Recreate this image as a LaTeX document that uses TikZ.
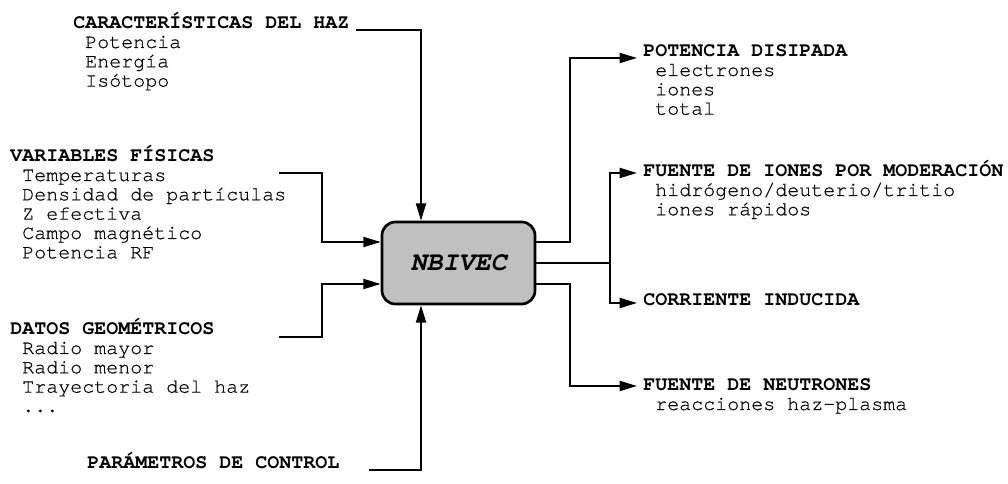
\documentclass[tikz,border=0pt]{standalone}
\usepackage{fontspec}
\setmainfont{texgyrecursor-regular.otf}[
  UprightFeatures={FakeBold=0.5},
  BoldFont=texgyrecursor-bold.otf,
  ItalicFont=texgyrecursor-italic.otf,
  BoldItalicFont=texgyrecursor-bolditalic.otf]
\usetikzlibrary{arrows.meta,calc}
\definecolor{boxgray}{HTML}{C0C0C0}
\newcommand\mylines[1]{\begin{tabular}[t]{@{}l@{}}#1\end{tabular}}
\begin{document}
\begin{tikzpicture}[x=0.75pt,y=-0.75pt,
  hdr/.style={inner sep=0pt, anchor=base west, font=\fontsize{15}{14.5}\selectfont\bfseries},
  items/.style={inner sep=0pt, anchor=base west, font=\fontsize{15}{14.5}\selectfont},
  ln/.style={line width=1.5pt},
  arr/.style={line width=1.5pt, -{Triangle[length=13pt,width=7.5pt]}},
  nbbox/.style={draw, line width=2pt, fill=boxgray, rounded corners=10pt,
    minimum width=114.75pt, minimum height=61.5pt, inner sep=0pt,
    font=\fontsize{20}{24}\selectfont\bfseries\itshape}]
\useasboundingbox (0,0) rectangle (1008,484);

% central box
\node[nbbox] (nb) at (458.5,263) {NBIVEC};

% inputs
\node[hdr] (car) at (73,28.5) {CARACTERÍSTICAS DEL HAZ};
\node[items] (cari) at (85,48) {\mylines{Potencia\\Energía\\Isótopo}};

\node[hdr] (var) at (10,161.5) {VARIABLES FÍSICAS};
\node[items] (vari) at (22,181) {\mylines{Temperaturas\\Densidad de partículas\\Z efectiva\\Campo magnético\\Potencia RF}};

\node[hdr] (dat) at (10,334.5) {DATOS GEOMÉTRICOS};
\node[items] (dati) at (22,354) {\mylines{Radio mayor\\Radio menor\\Trayectoria del haz\\...}};

\node[hdr] (par) at (87,469) {PARÁMETROS DE CONTROL};

% outputs
\node[hdr] (pot) at (643,56.5) {POTENCIA DISIPADA};
\node[items] (poti) at (655,76) {\mylines{electrones\\iones\\total}};

\node[hdr] (ion) at (643,176.5) {FUENTE DE IONES POR MODERACIÓN};
\node[items] (ioni) at (655,196) {\mylines{hidrógeno/deuterio/tritio\\iones rápidos}};

\node[hdr] (cor) at (643,305.5) {CORRIENTE INDUCIDA};

\node[hdr] (neu) at (643,390.5) {FUENTE DE NEUTRONES};
\node[items] (neui) at (655,410) {\mylines{reacciones haz-plasma}};

% input connectors
\draw[arr] ($(car.base east)+(6,1.5)$) -| ($(nb.north)+(-37.5,0)$);
\coordinate (vin) at (279,173);
\draw[arr] (vin) -| ($(nb.west)+(-59,-21)$) -- ($(nb.west)+(0,-21)$);
\coordinate (din) at (279,337);
\draw[arr] (din) -| ($(nb.west)+(-59,21)$) -- ($(nb.west)+(0,21)$);
\draw[arr] ($(par.base east)+(29,1.5)$) -| ($(nb.south)+(-37.5,0)$);

% output connectors
\draw[arr] ($(nb.east)+(0,-21)$) -- ++(34,0) |- ($(pot.base west)+(-6,1.5)$);
\coordinate (br) at ($(nb.east)+(74,0)$);
\draw[ln] (nb.east) -- (br);
\draw[arr] (br) |- ($(ion.base west)+(-6,-3.5)$);
\draw[arr] (br) |- ($(cor.base west)+(-6,-2.5)$);
\draw[arr] ($(nb.east)+(0,21)$) -- ++(34,0) |- ($(neu.base west)+(-6,-4.5)$);
\end{tikzpicture}
\end{document}
